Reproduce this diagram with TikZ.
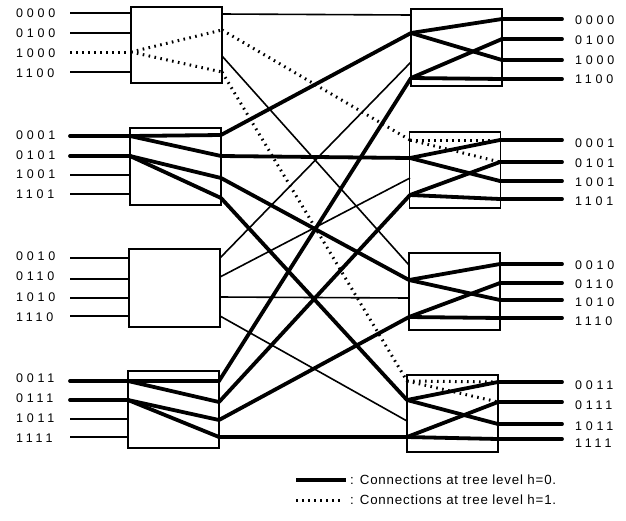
\documentclass[tikz,border=0pt]{standalone}
\usepackage{fontspec}
\setmainfont{Liberation Sans}
\newfontfamily\portfont[LetterSpace=30]{Liberation Sans}
\newfontfamily\legendfont[LetterSpace=6]{Liberation Sans}

\begin{document}
\begin{tikzpicture}[x=1pt,y=-1pt,
  box/.style={draw, line width=1.6pt, rectangle, inner sep=0pt, minimum width=91pt},
  thinw/.style={line width=1.6pt},
  thickw/.style={line width=3.8pt, line cap=round},
  dotw/.style={line width=3pt, dash pattern=on 1.6pt off 4.4pt},
  portlabel/.style={font=\portfont\fontsize{12.5}{14}\selectfont, inner sep=0pt, anchor=west},
  legendlabel/.style={font=\legendfont\fontsize{13.3}{15}\selectfont, inner sep=0pt, anchor=west},
]
\useasboundingbox (0,0) rectangle (626,520);

% switching boxes
\node[box, minimum height=76pt] (L0) at (176.5,45) {};
\node[box, minimum height=77pt] (L1) at (175.5,166.5) {};
\node[box, minimum height=78pt] (L2) at (174.5,288) {};
\node[box, minimum height=77pt] (L3) at (173.5,409.5) {};
\node[box, minimum height=77pt] (R0) at (456.5,47.5) {};
\node[box, minimum height=76pt] (R1) at (455,170) {};
\node[box, minimum height=77pt] (R2) at (454.5,291.5) {};
\node[box, minimum height=77pt] (R3) at (452.5,413.5) {};

% ports: name / edge x / four port heights
\foreach \n/\x/\a/\b/\c/\d in {
  L0i/131/13/33/52/72, L1i/130/136/156/175/194,
  L2i/129/258/279/298/316, L3i/128/381/400/419/437,
  L0o/222/14/30/56/72, L1o/221/135/156/178/198,
  L2o/220/258/277/297/316, L3o/219/381/402/420/437,
  R0i/411/15/33/62/78, R1i/410/140/158/178/195,
  R2i/409/265/280/298/317, R3i/407/381/400/421/437,
  R0o/502/19/39/60/79, R1o/500/140/162/181/199,
  R2o/500/264/283/300/318, R3o/498/382/402/424/439}
{
  \coordinate (\n1) at (\x,\a);
  \coordinate (\n2) at (\x,\b);
  \coordinate (\n3) at (\x,\c);
  \coordinate (\n4) at (\x,\d);
}

% input labels and the free ends of the input wires
\foreach \t/\y/\w in {
  0000/13/13, 0100/33/33, 1000/53/52, 1100/73/72,
  0001/135/136, 0101/155/156, 1001/174/175, 1101/194/194,
  0010/256/258, 0110/276/279, 1010/297/298, 1110/317/316,
  0011/378/381, 0111/398/400, 1011/418/419, 1111/438/437}
{
  \node[portlabel] (in\t) at (16,\y) {\t};
  \coordinate (s\t) at (70,\w);
}

% output labels and the free ends of the output wires
\foreach \t/\y/\w in {
  0000/20/19, 0100/40/39, 1000/60/60, 1100/79/79,
  0001/143/140, 0101/163/162, 1001/182/181, 1101/201/199,
  0010/265/264, 0110/284/283, 1010/302/300, 1110/321/318,
  0011/385/382, 0111/405/402, 1011/426/424, 1111/443/439}
{
  \node[portlabel] (out\t) at (575,\y) {\t};
  \coordinate (e\t) at (562,\w);
}

% input wires
\draw[thinw] (s0000) -- (L0i1);
\draw[thinw] (s0100) -- (L0i2);
\draw[dotw]  (s1000) -- (L0i3);
\draw[thinw] (s1100) -- (L0i4);
\draw[thickw] (s0001) -- (L1i1);
\draw[thickw] (s0101) -- (L1i2);
\draw[thinw] (s1001) -- (L1i3);
\draw[thinw] (s1101) -- (L1i4);
\draw[thinw] (s0010) -- (L2i1);
\draw[thinw] (s0110) -- (L2i2);
\draw[thinw] (s1010) -- (L2i3);
\draw[thinw] (s1110) -- (L2i4);
\draw[thickw] (s0011) -- (L3i1);
\draw[thickw] (s0111) -- (L3i2);
\draw[thinw] (s1011) -- (L3i3);
\draw[thinw] (s1111) -- (L3i4);

% output wires
\draw[thickw] (R0o1) -- (e0000);
\draw[thickw] (R0o2) -- (e0100);
\draw[thickw] (R0o3) -- (e1000);
\draw[thickw] (R0o4) -- (e1100);
\draw[thickw] (R1o1) -- (e0001);
\draw[thickw] (R1o2) -- (e0101);
\draw[thickw] (R1o3) -- (e1001);
\draw[thickw] (R1o4) -- (e1101);
\draw[thickw] (R2o1) -- (e0010);
\draw[thickw] (R2o2) -- (e0110);
\draw[thickw] (R2o3) -- (e1010);
\draw[thickw] (R2o4) -- (e1110);
\draw[thickw] (R3o1) -- (e0011);
\draw[thickw] (R3o2) -- (e0111);
\draw[thickw] (R3o3) -- (e1011);
\draw[thickw] (R3o4) -- (e1111);

% links between the two stages
\draw[thinw] (L0o1) -- (R0i1);
\draw[dotw]  (L0o2) -- (R1i1);
\draw[thinw] (L0o3) -- (R2i1);
\draw[dotw]  (L0o4) -- (R3i1);
\draw[thickw] (L1o1) -- (R0i2);
\draw[thickw] (L1o2) -- (R1i2);
\draw[thickw] (L1o3) -- (R2i2);
\draw[thickw] (L1o4) -- (R3i2);
\draw[thinw] (L2o1) -- (R0i3);
\draw[thinw] (L2o2) -- (R1i3);
\draw[thinw] (L2o3) -- (R2i3);
\draw[thinw] (L2o4) -- (R3i3);
\draw[thickw] (L3o1) -- (R0i4);
\draw[thickw] (L3o2) -- (R1i4);
\draw[thickw] (L3o3) -- (R2i4);
\draw[thickw] (L3o4) -- (R3i4);

% routes through the boxes, level h=1
\draw[dotw] (L0i3) -- (L0o2);
\draw[dotw] (L0i3) -- (L0o4);
\draw[dotw] (R1i1) -- (R1o1);
\draw[dotw] (R1i1) -- (R1o2);
\draw[dotw] (R3i1) -- (R3o1);
\draw[dotw] (R3i1) -- (R3o2);

% routes through the boxes, level h=0
\foreach \b in {L1, L3} {
  \draw[thickw] (\b i1) -- (\b o1);
  \draw[thickw] (\b i1) -- (\b o2);
  \draw[thickw] (\b i2) -- (\b o3);
  \draw[thickw] (\b i2) -- (\b o4);
}
\foreach \b in {R0, R1, R2, R3} {
  \draw[thickw] (\b i2) -- (\b o1);
  \draw[thickw] (\b i2) -- (\b o3);
  \draw[thickw] (\b i4) -- (\b o2);
  \draw[thickw] (\b i4) -- (\b o4);
}

% legend
\coordinate (k0a) at (296,480);
\coordinate (k0b) at (346,480);
\coordinate (k1a) at (296,500);
\coordinate (k1b) at (343,500);
\draw[thickw, line cap=butt] (k0a) -- (k0b);
\draw[dotw] (k1a) -- (k1b);
\node[legendlabel] (key0) at (350,480) {: Connections at tree level h=0.};
\node[legendlabel] (key1) at (350,500) {: Connections at tree level h=1.};
\end{tikzpicture}
\end{document}
